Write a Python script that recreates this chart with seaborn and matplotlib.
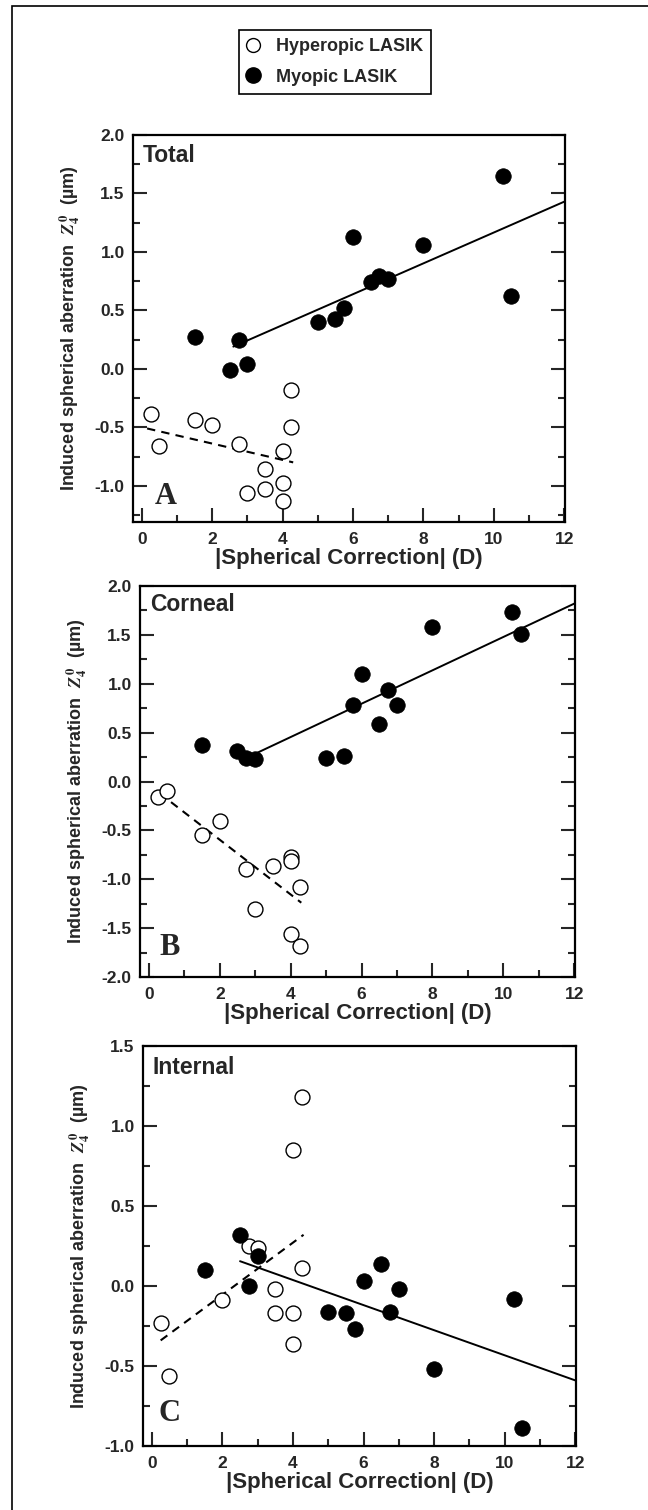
import matplotlib
matplotlib.use('Agg')
import matplotlib.pyplot as plt
import seaborn as sns
import pandas as pd
from matplotlib.ticker import MultipleLocator, FormatStrFormatter
from matplotlib.lines import Line2D
from matplotlib.patches import Rectangle

# panel A - Total
A_hyp_x = [0.25, 0.5, 1.5, 2.0, 2.75, 3.0, 3.5, 3.5, 4.0, 4.0, 4.0, 4.25, 4.25]
A_hyp_y = [-0.39, -0.66, -0.44, -0.48, -0.64, -1.06, -0.86, -1.03, -0.70, -0.98, -1.13, -0.18, -0.50]
A_myo_x = [1.5, 2.5, 2.75, 3.0, 5.0, 5.5, 5.75, 6.0, 6.5, 6.75, 7.0, 8.0, 10.25, 10.5]
A_myo_y = [0.27, -0.01, 0.25, 0.04, 0.40, 0.43, 0.52, 1.13, 0.74, 0.79, 0.77, 1.06, 1.65, 0.62]
A_fit_myo = ([2.6, 12.0], [0.19, 1.43])
A_fit_hyp = ([0.15, 4.3], [-0.51, -0.80])

# panel B - Corneal
B_hyp_x = [0.25, 0.5, 1.5, 2.0, 2.75, 3.0, 3.5, 4.0, 4.0, 4.0, 4.25, 4.25]
B_hyp_y = [-0.16, -0.10, -0.55, -0.40, -0.90, -1.30, -0.86, -0.77, -0.81, -1.56, -1.08, -1.68]
B_myo_x = [1.5, 2.5, 2.75, 3.0, 5.0, 5.5, 5.75, 6.0, 6.5, 6.75, 7.0, 8.0, 10.25, 10.5]
B_myo_y = [0.37, 0.31, 0.24, 0.23, 0.24, 0.26, 0.78, 1.10, 0.59, 0.94, 0.78, 1.58, 1.73, 1.51]
B_fit_myo = ([2.8, 12.0], [0.25, 1.82])
B_fit_hyp = ([0.3, 4.3], [-0.12, -1.24])

# panel C - Internal
C_hyp_x = [0.25, 0.5, 2.0, 2.75, 3.0, 3.5, 3.5, 4.0, 4.0, 4.0, 4.25, 4.25]
C_hyp_y = [-0.23, -0.56, -0.09, 0.25, 0.24, -0.02, -0.17, 0.85, -0.17, -0.36, 1.18, 0.11]
C_myo_x = [1.5, 2.5, 2.75, 3.0, 5.0, 5.5, 5.75, 6.0, 6.5, 6.75, 7.0, 8.0, 10.25, 10.5]
C_myo_y = [0.10, 0.32, 0.00, 0.19, -0.16, -0.17, -0.27, 0.03, 0.14, -0.16, -0.02, -0.52, -0.08, -0.89]
C_fit_myo = ([2.5, 12.0], [0.155, -0.59])
C_fit_hyp = ([0.25, 4.3], [-0.34, 0.32])

sns.set_style('ticks')
plt.rcParams['font.family'] = ['Liberation Sans', 'DejaVu Sans']
plt.rcParams['font.weight'] = 'bold'
plt.rcParams['mathtext.fontset'] = 'stix'
plt.rcParams['axes.unicode_minus'] = False

W, H = 648, 1510
fig = plt.figure(figsize=(W / 100, H / 100), dpi=100)


def box(l, t, r, b):
    return [l / W, 1 - b / H, (r - l) / W, (b - t) / H]


def panel(rect, hx, hy, mx, my, fit_m, fit_h, ylim, name, name_y, letter, letter_xy):
    ax = fig.add_axes(rect)
    sns.scatterplot(x=hx, y=hy, ax=ax, marker='o', s=115, facecolor='white',
                    edgecolor='black', linewidth=1.0, zorder=3)
    sns.scatterplot(x=mx, y=my, ax=ax, marker='o', s=125, color='black',
                    edgecolor='black', linewidth=0.5, zorder=3)
    sns.lineplot(x=fit_m[0], y=fit_m[1], ax=ax, color='black', lw=1.4,
                 estimator=None, zorder=2)
    sns.lineplot(x=fit_h[0], y=fit_h[1], ax=ax, color='black', lw=1.5,
                 dashes=False, linestyle=(0, (4, 3)), estimator=None, zorder=2)
    ax.set_xlim(-0.25, 12.02)
    ax.set_ylim(*ylim)
    ax.xaxis.set_major_locator(MultipleLocator(2))
    ax.xaxis.set_minor_locator(MultipleLocator(1))
    ax.yaxis.set_major_locator(MultipleLocator(0.5))
    ax.yaxis.set_minor_locator(MultipleLocator(0.25))
    ax.yaxis.set_major_formatter(FormatStrFormatter('%.1f'))
    ax.tick_params(which='both', direction='in', left=True, right=True,
                   bottom=True, top=False, width=1.5, labelsize=12.5)
    ax.tick_params(which='major', length=10)
    ax.tick_params(which='minor', length=5)
    ax.tick_params(axis='x', pad=7)
    ax.tick_params(axis='y', pad=6)
    for sp in ax.spines.values():
        sp.set_linewidth(1.6)
        sp.set_color('black')
    ax.set_xlabel('|Spherical Correction| (D)', fontsize=16, fontweight='bold', labelpad=1)
    ax.set_ylabel('Induced spherical aberration  $Z_4^0$  (\u00b5m)', fontsize=13,
                  fontweight='bold', labelpad=9)
    ax.text(0.03, name_y, name, fontsize=16.5, fontweight='bold', ha='left', va='baseline')
    ax.text(letter_xy[0], letter_xy[1], letter, fontsize=22, fontweight='bold',
            family='Liberation Serif', ha='left', va='baseline')
    return ax


panel(box(133, 135, 565, 522), A_hyp_x, A_hyp_y, A_myo_x, A_myo_y, A_fit_myo, A_fit_hyp,
      (-1.31, 2.0), 'Total', 1.77, 'A', (0.38, -1.155))
panel(box(140, 586, 575, 977), B_hyp_x, B_hyp_y, B_myo_x, B_myo_y, B_fit_myo, B_fit_hyp,
      (-2.0, 2.0), 'Corneal', 1.74, 'B', (0.31, -1.775))
panel(box(143, 1046, 576, 1446), C_hyp_x, C_hyp_y, C_myo_x, C_myo_y, C_fit_myo, C_fit_hyp,
      (-1.0, 1.5), 'Internal', 1.325, 'C', (0.2, -0.844))

handles = [Line2D([], [], ls='none', marker='o', ms=10, mfc='white', mec='black', mew=1.0),
           Line2D([], [], ls='none', marker='o', ms=11, mfc='black', mec='black')]
leg = fig.legend(handles, ['Hyperopic LASIK', 'Myopic LASIK'], loc='upper left',
                 bbox_to_anchor=(239 / W, 1 - 30 / H), frameon=True, fancybox=False,
                 edgecolor='black', framealpha=1, prop={'weight': 'bold', 'size': 13},
                 handletextpad=1.0, borderpad=0.45, labelspacing=0.75, handlelength=0.6,
                 borderaxespad=0)
leg.get_frame().set_linewidth(1.2)

# outer frame of the figure panel
fig.add_artist(Rectangle((12 / W, -0.05), 1.2, 1.05 - 6 / H, transform=fig.transFigure,
                         fill=False, edgecolor='black', lw=1.2))

fig.savefig('out.png', dpi=100)
